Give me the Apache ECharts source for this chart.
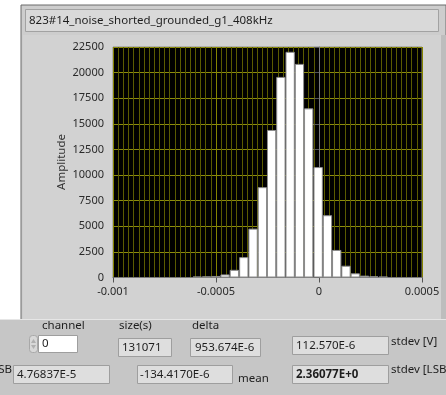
<!DOCTYPE html>
<html><head><meta charset="utf-8">
<script src="https://cdn.jsdelivr.net/npm/echarts@6/dist/echarts.min.js"></script>
<style>html,body{margin:0;padding:0;background:#fff;overflow:hidden}#c{width:446px;height:395px}</style>
</head><body><div id="c"></div>
<script>
const graphTitle = "823#14_noise_shorted_grounded_g1_408kHz";
const yAxisName = "Amplitude";
// histogram bin centres (V) and counts
const binCenters = [-0.000591, -0.000546, -0.000501, -0.000456, -0.000411, -0.000365, -0.000320,
  -0.000275, -0.000230, -0.000185, -0.000140, -0.000095, -0.000050, -0.000004,
  0.000041, 0.000086, 0.000131, 0.000176, 0.000221, 0.000266, 0.000312];
const counts = [90, 110, 150, 300, 750, 1990, 4770, 8820, 14400, 19580, 22030, 20850, 16510, 10780,
  6080, 2690, 1150, 410, 180, 120, 80];
const xTickLabels = {"-0.001": "-0.001", "-0.0005": "-0.0005", "0": "0", "0.0005": "0.0005"};
// front-panel indicator texts
const channelLabel = "channel", channelValue = "0";
const sizeLabel = "size(s)", sizeValue = "131071";
const deltaLabel = "delta", deltaValue = "953.674E-6";
const stdevVValue = "112.570E-6", stdevVLabel = "stdev [V]";
const lsbLabel = "LSB", lsbValue = "4.76837E-5";
const meanValue = "-134.4170E-6", meanLabel = "mean";
const stdevLsbValue = "2.36077E+0", stdevLsbLabel = "stdev [LSB]";

const FONT = "'Noto Sans', 'Open Sans', sans-serif";
const chart = echarts.init(document.getElementById('c'), null, {renderer: 'canvas'});

function box(x, y, w, h, fill) {
  return {type: 'rect', z: -5, shape: {x: x, y: y, width: w, height: h},
    style: {fill: fill || '#dedede', stroke: '#9e9e9e', lineWidth: 1}};
}
function txt(s, x, y, opts) {
  opts = opts || {};
  return {type: 'text', z: 5, x: x, y: y, rotation: opts.rot || 0,
    style: {text: s, fill: opts.color || '#1e1e1e', font: (opts.weight || 'normal') + ' ' + (opts.size || 11.5) + 'px ' + FONT,
      textAlign: opts.align || 'left', textVerticalAlign: 'middle'}};
}

const fmtX = v => {
  const r = Math.round(v * 1e6) / 1e6;
  const k = String(r);
  return xTickLabels[k] !== undefined ? xTickLabels[k] : '';
};

chart.setOption({
  animation: false,
  backgroundColor: '#ffffff',
  grid: {left: 113, right: 24, top: 47, bottom: 117.5, show: true, backgroundColor: '#000000',
    borderColor: '#8a8a8a', borderWidth: 1, containLabel: false},
  xAxis: {
    type: 'value', min: -0.001, max: 0.0005, interval: 0.0005,
    axisLine: {show: true, onZero: false, lineStyle: {color: '#7a7a7a', width: 1}},
    axisTick: {show: true, length: 5, lineStyle: {color: '#555'}},
    minorTick: {show: false, splitNumber: 20},
    minorSplitLine: {show: true, lineStyle: {color: '#5a5a00', width: 1}},
    splitLine: {show: true, lineStyle: {color: '#848400', width: 1}},
    axisLabel: {formatter: fmtX, color: '#2a2a2a', fontFamily: FONT, fontSize: 11, margin: 9, showMinLabel: true, showMaxLabel: true}
  },
  yAxis: {
    type: 'value', min: 0, max: 22500, interval: 2500,
    axisLine: {show: true, lineStyle: {color: '#7a7a7a', width: 1}},
    axisTick: {show: true, length: 5, lineStyle: {color: '#555'}},
    splitLine: {show: true, lineStyle: {color: '#8c8c0c', width: 1}},
    axisLabel: {formatter: v => String(v), color: '#2a2a2a', fontFamily: FONT, fontSize: 11, margin: 9}
  },
  series: [{
    type: 'bar',
    data: binCenters.map((x, i) => [x, counts[i]]),
    barWidth: 9.3,
    itemStyle: {color: '#ffffff', borderColor: '#8c8c8c', borderWidth: 1},
    silent: true
  }],
  graphic: {elements: [
    // panels
    {type: 'rect', z: -10, shape: {x: 21, y: 5, width: 425, height: 390}, style: {fill: '#cdcdcd', stroke: '#6a6a6a', lineWidth: 1}},
    {type: 'rect', z: -9, shape: {x: 23, y: 35, width: 418, height: 284}, style: {fill: '#d2d2d2'}},
    {type: 'rect', z: -9, shape: {x: 441, y: 35, width: 5, height: 284}, style: {fill: '#bdbdbd'}},
    {type: 'rect', z: -9, shape: {x: 0, y: 319, width: 446, height: 76}, style: {fill: '#c6c6c6'}},
    {type: 'line', z: -8, shape: {x1: 0, y1: 319.5, x2: 446, y2: 319.5}, style: {stroke: '#e6e6e6', lineWidth: 1}},
    {type: 'rect', z: -8, shape: {x: 25.5, y: 9.5, width: 413, height: 22}, style: {fill: '#d9d9d9', stroke: '#a2a2a2', lineWidth: 1}},
    txt(graphTitle, 29, 21, {size: 11.5}),
    txt(yAxisName, 62, 162, {rot: Math.PI / 2, align: 'center', size: 11.5, color: '#333'}),
    // lower controls
    txt(channelLabel, 42, 326),
    {type: 'rect', z: -5, shape: {x: 29.5, y: 335.5, width: 8, height: 17, r: 3}, style: {fill: '#d8d8d8', stroke: '#a8a8a8', lineWidth: 1}},
    {type: 'polygon', z: 4, shape: {points: [[31, 343], [36, 343], [33.5, 339]]}, style: {fill: '#b0b0b0'}},
    {type: 'polygon', z: 4, shape: {points: [[31, 345], [36, 345], [33.5, 349]]}, style: {fill: '#b0b0b0'}},
    box(38.5, 335.5, 39, 17, '#ffffff'),
    txt(channelValue, 42, 344),
    txt(sizeLabel, 119, 326),
    box(118.5, 338.5, 53, 18),
    txt(sizeValue, 122, 347.5),
    txt(deltaLabel, 192, 326),
    box(190.5, 338.5, 70, 18),
    txt(deltaValue, 195, 347.5),
    box(292.5, 336.5, 96, 18),
    txt(stdevVValue, 296, 345.5),
    txt(stdevVLabel, 391, 342),
    txt(lsbLabel, 12, 370, {align: 'right'}),
    box(13.5, 365.5, 96, 18),
    txt(lsbValue, 17, 374.5),
    box(137.5, 365.5, 95, 18),
    txt(meanValue, 140, 374.5),
    txt(meanLabel, 238, 379),
    box(292.5, 365.5, 96, 18),
    txt(stdevLsbValue, 296, 374.5, {weight: 'bold'}),
    txt(stdevLsbLabel, 391, 370)
  ]}
});
</script></body></html>
